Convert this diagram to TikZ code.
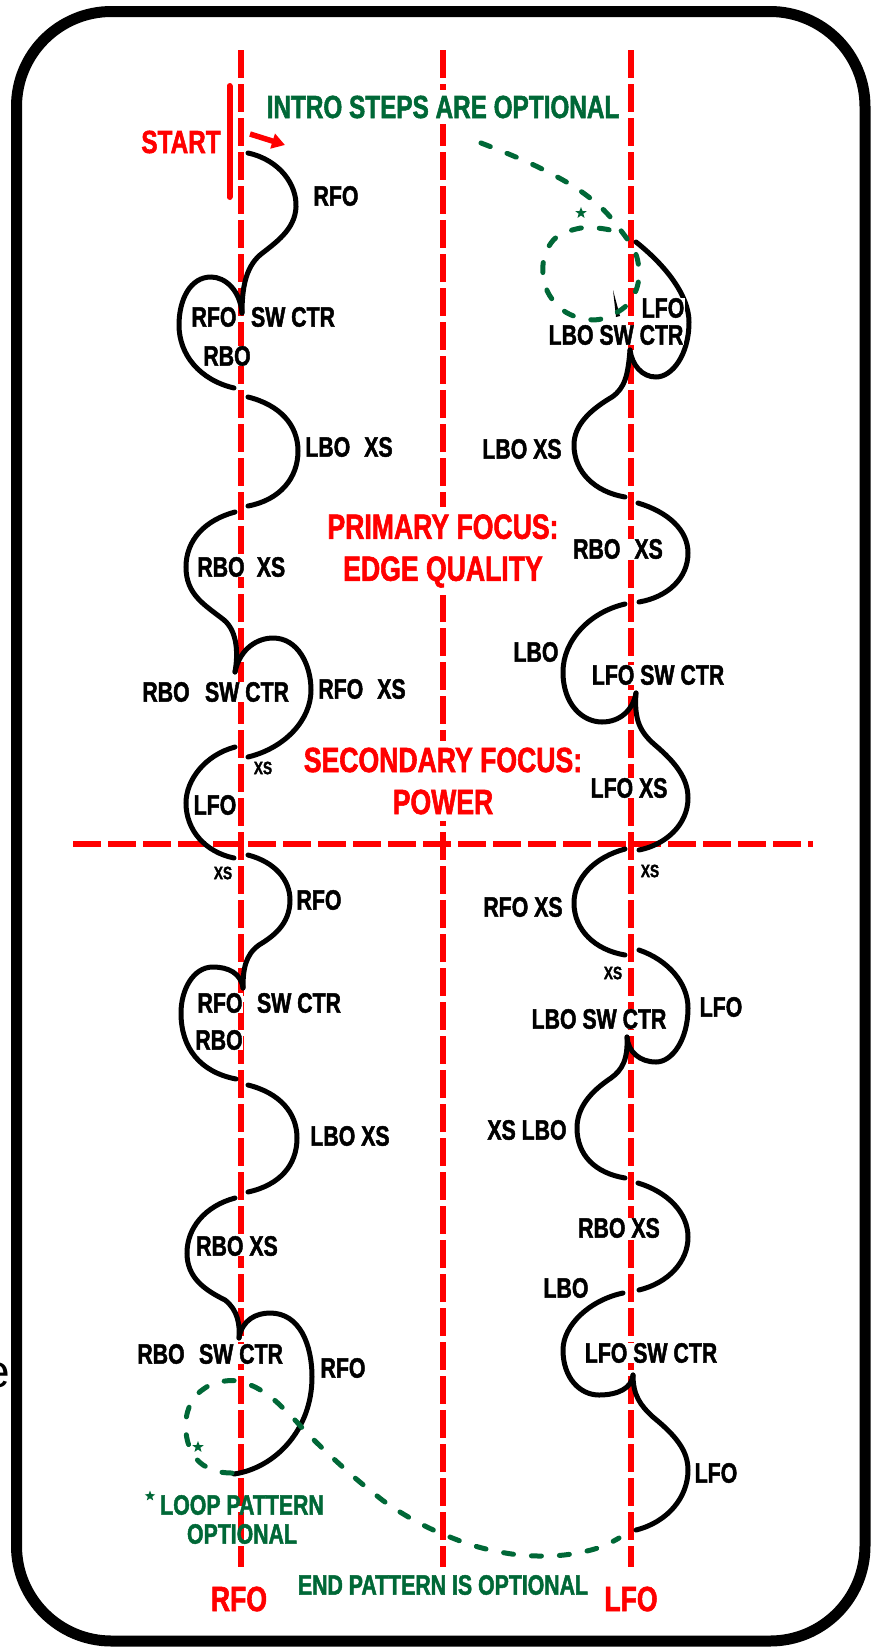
\documentclass[tikz,border=0pt]{standalone}
\usepackage{fontspec}
\newfontfamily\labfont[FakeStretch=0.76, FakeBold=1.6]{Liberation Sans}
\newfontfamily\edgefont{Liberation Sans}
\usetikzlibrary{arrows.meta,shapes.geometric}
\definecolor{trail}{RGB}{0,104,55}

\begin{document}
\begin{tikzpicture}[x=1pt, y=-1pt,
  lane/.style={red, line width=5.5pt, dash pattern=on 28pt off 6pt},
  lobe/.style={line width=5pt, line cap=round},
  opt/.style={trail, line width=5pt, dash pattern=on 10pt off 18pt, line cap=round},
  lbl/.style={font=\labfont\bfseries\fontsize{28}{30}\selectfont, fill=white, inner sep=0.5pt},
  xslbl/.style={font=\labfont\bfseries\fontsize{18}{20}\selectfont, fill=white, inner sep=0.5pt},
  focus/.style={font=\labfont\bfseries\fontsize{35}{42}\selectfont, red, align=center, fill=white, inner xsep=2pt, inner ysep=7pt},
  note/.style={font=\labfont\bfseries\fontsize{28}{29}\selectfont, trail, align=center},
  starmark/.style={star, star points=5, star point ratio=2.4, fill=trail, inner sep=0pt, minimum size=12pt}]
\useasboundingbox (0,0) rectangle (878,1647);
\draw[line width=11pt, rounded corners=95pt] (16.5,11.5) rectangle (865,1641);
\node[anchor=east, inner sep=0pt, font=\edgefont\fontsize{46}{46}\selectfont] (cut) at (10,1375) {e};

% skating lanes
\draw[lane] (241,50) -- (241,1567);
\draw[lane] (443,50) -- (443,1567);
\draw[lane] (631,50) -- (631,1567);
\draw[red, line width=5.5pt, dash pattern=on 28pt off 7pt] (73,844) -- (813,844);

% start
\draw[red, line width=6pt, line cap=round] (229.5,86) -- (229.5,197);
\draw[red, line width=5.5pt, -{Triangle[length=13pt,width=15pt]}] (250,134) -- (285,145);

% left lane
\draw[lobe] (248,153) .. controls (280,160) and (297,185) .. (296,207) .. controls (295,230) and (275,243) .. (260,255) .. controls (245,268) and (242,290) .. (242,313);
\draw[lobe] (242,313) .. controls (240,290) and (225,277) .. (211,277) .. controls (190,277) and (179,300) .. (179,325) .. controls (179,355) and (200,380) .. (234,388);
\draw[lobe] (248,397) .. controls (280,405) and (298,425) .. (298,451) .. controls (298,478) and (280,500) .. (248,506);
\draw[lobe] (235,512) .. controls (205,520) and (186,540) .. (186,567) .. controls (186,595) and (205,605) .. (224,620) .. controls (238,632) and (238,655) .. (235,672);
\draw[lobe] (235,672) .. controls (240,648) and (258,638) .. (273,638) .. controls (298,638) and (311,665) .. (311,690) .. controls (311,720) and (285,748) .. (248,757);
\draw[lobe] (235,747) .. controls (205,755) and (186,780) .. (186,803) .. controls (186,830) and (205,852) .. (234,858);
\draw[lobe] (248,855) .. controls (275,862) and (290,880) .. (290,900) .. controls (290,925) and (272,937) .. (259,945) .. controls (245,955) and (243,970) .. (243,988);
\draw[lobe] (243,988) .. controls (241,973) and (228,967) .. (213,967) .. controls (193,967) and (181,990) .. (181,1013) .. controls (181,1048) and (200,1072) .. (236,1079);
\draw[lobe] (248,1085) .. controls (280,1093) and (297,1113) .. (297,1138) .. controls (297,1165) and (280,1185) .. (248,1192);
\draw[lobe] (235,1198) .. controls (205,1206) and (187,1228) .. (187,1253) .. controls (187,1278) and (205,1290) .. (225,1300) .. controls (238,1310) and (240,1325) .. (239,1338);
\draw[lobe] (239,1338) .. controls (242,1320) and (256,1313) .. (270,1313) .. controls (300,1313) and (312,1345) .. (312,1377) .. controls (312,1430) and (275,1468) .. (234,1474);

% right lane
\fill (613,290) -- (620,316) -- (616,317) -- cycle;
\draw[lobe] (636,242) .. controls (665,265) and (689,295) .. (689,322) .. controls (689,355) and (672,377) .. (656,377) .. controls (642,377) and (632,365) .. (630,350);
\draw[lobe] (630,350) .. controls (628,375) and (625,388) .. (612,397) .. controls (590,410) and (574,425) .. (574,445) .. controls (574,472) and (595,492) .. (625,497);
\draw[lobe] (638,503) .. controls (668,512) and (688,530) .. (688,553) .. controls (688,578) and (668,597) .. (639,602);
\draw[lobe] (625,604) .. controls (590,612) and (563,640) .. (563,672) .. controls (563,705) and (583,722) .. (602,722) .. controls (620,722) and (633,710) .. (636,693);
\draw[lobe] (636,693) .. controls (634,720) and (640,732) .. (655,745) .. controls (675,762) and (688,778) .. (688,798) .. controls (688,825) and (665,845) .. (639,850);
\draw[lobe] (625,849) .. controls (595,857) and (574,878) .. (574,903) .. controls (574,930) and (595,950) .. (625,955);
\draw[lobe] (639,950) .. controls (668,960) and (688,983) .. (688,1008) .. controls (688,1040) and (672,1062) .. (656,1062) .. controls (640,1062) and (628,1052) .. (627,1037);
\draw[lobe] (627,1037) .. controls (628,1060) and (622,1070) .. (611,1078) .. controls (590,1092) and (577,1108) .. (577,1128) .. controls (577,1155) and (595,1173) .. (625,1178);
\draw[lobe] (638,1183) .. controls (668,1192) and (688,1213) .. (688,1237) .. controls (688,1262) and (668,1283) .. (639,1290);
\draw[lobe] (623,1293) .. controls (590,1300) and (563,1325) .. (563,1350) .. controls (563,1378) and (580,1395) .. (599,1395) .. controls (618,1395) and (632,1388) .. (633,1375);
\draw[lobe] (633,1375) .. controls (633,1395) and (640,1405) .. (653,1417) .. controls (675,1435) and (688,1450) .. (688,1470) .. controls (688,1497) and (668,1522) .. (636,1530);

% optional patterns
\draw[opt] plot[smooth, tension=0.7] coordinates {(481,143) (540,168) (590,198) (622,232) (638,262) (634,295) (612,315) (585,319) (557,305) (543,275) (551,243) (576,229) (605,229) (625,236)};
\draw[opt] plot[smooth, tension=0.7] coordinates {(232,1473) (213,1470) (195,1457) (186,1432) (190,1405) (205,1388) (225,1381) (245,1383) (268,1395) (290,1415) (310,1436) (335,1460) (366,1487) (400,1512) (445,1535) (495,1551) (546,1556) (591,1550) (619,1538)};
\node[starmark] (star1) at (581,213) {};
\node[starmark] (star2) at (198,1447) {};
\node[starmark, minimum size=11pt] (star3) at (150,1496) {};

% texts
\node[font=\labfont\bfseries\fontsize{32}{34}\selectfont, red] (start) at (181,142) {START};
\node[font=\labfont\bfseries\fontsize{32}{34}\selectfont, trail, fill=white, inner xsep=3pt, inner ysep=6pt] (intro) at (443,107) {INTRO STEPS ARE OPTIONAL};
\node[focus] (primary) at (443,551) {PRIMARY FOCUS:\\EDGE QUALITY};
\node[focus] (secondary) at (443,781) {SECONDARY FOCUS:\\POWER};
\node[note] (loop) at (242,1519.5) {LOOP PATTERN\\OPTIONAL};
\node[note] (endpat) at (443,1585) {END PATTERN IS OPTIONAL};
\node[font=\labfont\bfseries\fontsize{35}{37}\selectfont, red] (rfolane) at (239,1599) {RFO};
\node[font=\labfont\bfseries\fontsize{35}{37}\selectfont, red] (lfolane) at (631,1599) {LFO};

\node[lbl] (l1) at (336,196) {RFO};
\node[lbl] (l2) at (214,317) {RFO};
\node[lbl] (l3) at (293,317) {SW CTR};
\node[lbl] (l4) at (227,356) {RBO};
\node[lbl] (l5) at (349,447) {LBO\enspace XS};
\node[lbl] (l6) at (221,567) {RBO};
\node[lbl] (l7) at (271,567) {XS};
\node[lbl] (l8) at (166,692) {RBO};
\node[lbl] (l9) at (247,692) {SW CTR};
\node[lbl] (l10) at (362,689) {RFO\enspace XS};
\node[xslbl] (l11) at (263,768) {XS};
\node[lbl] (l12) at (215,805) {LFO};
\node[xslbl] (l13) at (223,873) {XS};
\node[lbl] (l14) at (319,900) {RFO};
\node[lbl] (l15) at (220,1003) {RFO};
\node[lbl] (l16) at (299,1003) {SW CTR};
\node[lbl] (l17) at (219,1040) {RBO};
\node[lbl] (l18) at (350,1136) {LBO XS};
\node[lbl] (l19) at (237,1246) {RBO XS};
\node[lbl] (l20) at (161,1354) {RBO};
\node[lbl] (l21) at (241,1354) {SW CTR};
\node[lbl] (l22) at (343,1368) {RFO};

\node[lbl] (r1) at (663,308) {LFO};
\node[lbl] (r2) at (616,335) {LBO SW CTR};
\node[lbl] (r3) at (522,449) {LBO XS};
\node[lbl] (r4) at (618,549) {RBO\enspace XS};
\node[lbl] (r5) at (536,652) {LBO};
\node[lbl] (r6) at (658,675) {LFO SW CTR};
\node[lbl] (r7) at (629,788) {LFO XS};
\node[xslbl] (r8) at (650,871) {XS};
\node[lbl] (r9) at (523,907) {RFO XS};
\node[xslbl] (r10) at (613,973) {XS};
\node[lbl] (r11) at (721,1007) {LFO};
\node[lbl] (r12) at (599,1019) {LBO SW CTR};
\node[lbl] (r13) at (527,1130) {XS LBO};
\node[lbl] (r14) at (619,1228) {RBO XS};
\node[lbl] (r15) at (566,1288) {LBO};
\node[lbl] (r16) at (651,1353) {LFO SW CTR};
\node[lbl] (r17) at (716,1473) {LFO};
\end{tikzpicture}
\end{document}
